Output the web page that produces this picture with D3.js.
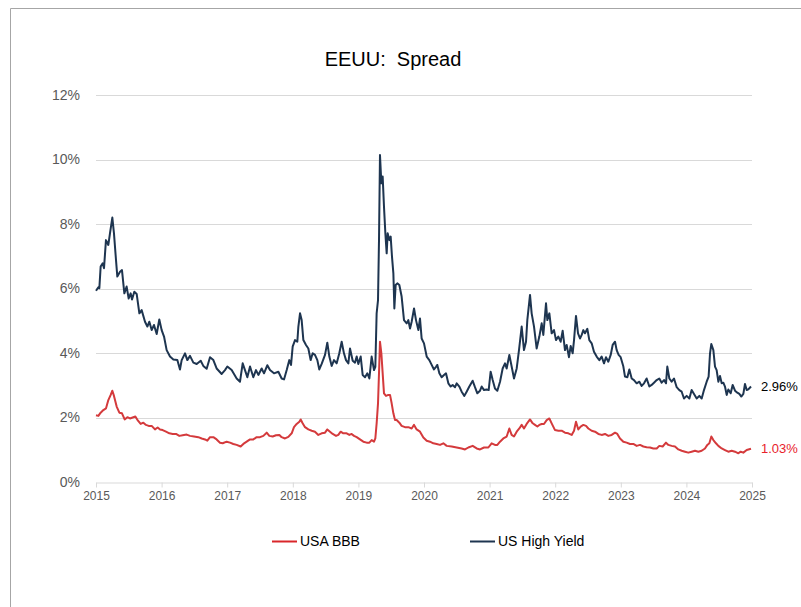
<!DOCTYPE html>
<html>
<head>
<meta charset="utf-8">
<script src="https://cdn.jsdelivr.net/npm/d3@7/dist/d3.min.js"></script>
<style>
  html, body { margin: 0; padding: 0; background: #fff; }
  svg { display: block; font-family: "Liberation Sans", Arial, sans-serif; }
</style>
</head>
<body>
<svg id="chart" width="801" height="607"></svg>
<script>
// ---- data (decimal years, spread in %) ----
const title = "EEUU:  Spread";
const seriesNames = ["USA BBB", "US High Yield"];
const yTicks = [0, 2, 4, 6, 8, 10, 12];
const xTicks = [2015, 2016, 2017, 2018, 2019, 2020, 2021, 2022, 2023, 2024, 2025];

const hyYears = [
2015.000,2015.036,2015.051,2015.071,2015.102,2015.122,2015.152,2015.188,2015.213,2015.249,2015.274,2015.305,2015.325,2015.366,2015.396,2015.432,2015.467,2015.498,2015.528,2015.549,2015.584,2015.620,2015.661,2015.696,2015.747,2015.783,2015.813,2015.849,2015.884,2015.925,2015.965,
2016.001,2016.037,2016.077,2016.128,2016.179,2016.240,2016.280,2016.306,2016.357,2016.392,2016.433,2016.484,2016.535,2016.596,2016.636,2016.687,2016.738,2016.789,2016.839,2016.916,2016.966,
2017.002,2017.068,2017.144,2017.195,2017.236,2017.271,2017.307,2017.348,2017.398,2017.439,2017.475,2017.525,2017.561,2017.612,2017.652,2017.713,2017.780,2017.830,2017.866,2017.907,2017.947,2017.973,
2017.998,2018.034,2018.069,2018.085,2018.110,2018.135,2018.161,2018.201,2018.237,2018.272,2018.303,2018.338,2018.374,2018.404,2018.440,2018.491,2018.526,2018.557,2018.593,2018.628,2018.669,2018.709,2018.745,2018.780,2018.811,2018.847,2018.872,2018.913,2018.948,2018.974,
2018.999,2019.035,2019.065,2019.101,2019.136,2019.167,2019.202,2019.238,2019.258,2019.278,2019.299,2019.314,2019.329,2019.350,2019.370,2019.390,2019.411,2019.431,2019.446,2019.472,2019.492,2019.512,2019.533,2019.548,2019.568,2019.593,2019.624,2019.659,2019.695,2019.736,2019.761,2019.787,2019.812,2019.848,2019.878,2019.914,2019.939,2019.964,
2020.000,2020.041,2020.081,2020.117,2020.152,2020.183,2020.203,2020.234,2020.269,2020.305,2020.335,2020.371,2020.407,2020.437,2020.473,2020.498,2020.539,2020.574,2020.615,2020.650,2020.691,2020.742,2020.777,2020.813,2020.854,2020.879,2020.915,2020.955,2020.986,
2021.016,2021.047,2021.082,2021.118,2021.159,2021.199,2021.235,2021.260,2021.301,2021.336,2021.372,2021.413,2021.448,2021.489,2021.524,2021.555,2021.575,2021.616,2021.641,2021.677,2021.717,2021.758,2021.794,2021.819,2021.860,2021.880,2021.911,2021.946,2021.982,
2022.012,2022.048,2022.083,2022.114,2022.149,2022.175,2022.210,2022.236,2022.266,2022.287,2022.317,2022.348,2022.378,2022.404,2022.429,2022.454,2022.490,2022.520,2022.556,2022.591,2022.632,2022.673,2022.708,2022.744,2022.774,2022.810,2022.846,2022.876,2022.912,2022.937,2022.967,2022.998,
2023.039,2023.064,2023.100,2023.130,2023.166,2023.201,2023.242,2023.283,2023.318,2023.354,2023.394,2023.435,2023.470,2023.506,2023.547,2023.587,2023.623,2023.659,2023.689,2023.709,2023.740,2023.775,2023.811,2023.852,2023.892,2023.928,2023.963,
2024.004,2024.045,2024.080,2024.116,2024.157,2024.197,2024.233,2024.268,2024.309,2024.339,2024.360,2024.380,2024.411,2024.436,2024.461,2024.487,2024.512,2024.538,2024.563,2024.588,2024.614,2024.639,2024.675,2024.705,2024.741,2024.776,2024.807,2024.837,2024.868,2024.893,2024.919,2024.944,2024.985
];
const hyValues = [
5.93,6.04,6.01,6.68,6.78,6.63,7.50,7.35,7.71,8.20,7.71,6.88,6.37,6.52,6.57,5.85,6.06,5.69,5.85,5.66,5.90,5.83,5.23,5.33,4.97,4.82,4.97,4.71,4.87,4.59,5.04,
4.71,4.51,4.09,3.89,3.80,3.78,3.49,3.78,3.99,3.78,3.91,3.70,3.66,3.76,3.60,3.51,3.87,3.78,3.52,3.35,3.47,
3.58,3.47,3.21,3.11,3.68,3.47,3.25,3.58,3.25,3.47,3.32,3.52,3.37,3.62,3.47,3.37,3.42,3.21,3.18,3.47,3.78,3.63,
4.20,4.40,4.35,4.82,5.23,5.02,4.40,4.25,4.14,3.78,3.99,3.94,3.78,3.49,3.66,3.94,4.32,3.89,3.60,3.78,3.68,3.99,4.35,3.99,3.78,3.68,4.14,3.76,3.70,3.89,
3.66,3.89,3.32,3.25,3.37,3.21,3.89,3.47,3.57,5.23,5.64,7.50,10.14,9.26,9.47,8.54,7.71,7.09,7.71,7.50,7.61,6.99,6.47,5.38,6.11,6.16,6.11,5.75,5.02,4.92,5.02,4.76,4.97,5.38,5.02,4.71,5.07,4.45,
4.30,3.89,3.78,3.63,3.49,3.57,3.63,3.37,3.25,3.32,3.37,3.06,2.96,3.01,2.94,3.06,2.96,2.80,2.67,2.80,2.96,3.14,2.94,2.75,2.83,2.96,2.85,2.87,2.85,
3.42,3.16,2.90,2.83,3.11,3.52,3.68,3.52,3.94,3.58,3.21,3.52,4.09,4.82,4.09,4.35,5.02,5.80,5.23,4.82,4.14,4.51,4.92,4.56,5.54,5.02,5.23,4.61,4.71,
4.40,4.51,4.35,4.69,4.09,4.25,3.87,4.22,3.99,4.40,5.15,4.61,4.45,4.56,4.71,4.61,4.75,4.40,4.30,4.04,3.89,3.78,3.89,3.68,3.87,3.73,3.94,4.25,4.35,4.09,3.94,3.87,
3.58,3.27,3.25,3.49,3.21,3.16,3.06,3.11,2.98,3.06,3.21,2.96,3.01,3.08,3.16,3.21,3.08,3.16,3.06,3.58,3.21,3.11,3.21,2.94,2.85,2.80,2.59,
2.67,2.59,2.85,2.73,2.59,2.67,2.59,2.85,3.11,3.27,3.99,4.28,4.09,3.58,3.47,3.11,3.29,3.06,3.08,2.96,2.70,2.87,2.75,3.01,2.83,2.77,2.73,2.65,2.73,3.04,2.85,2.87,2.96
];

const bbbYears = [
2015.000,2015.036,2015.071,2015.112,2015.152,2015.188,2015.224,2015.249,2015.274,2015.315,2015.356,2015.396,2015.437,2015.478,2015.518,2015.559,2015.600,2015.640,2015.681,2015.722,2015.762,2015.803,2015.849,2015.899,2015.940,2015.976,
2016.016,2016.067,2016.118,2016.169,2016.220,2016.270,2016.321,2016.382,2016.433,2016.494,2016.560,2016.611,2016.662,2016.697,2016.738,2016.789,2016.839,2016.890,2016.931,2016.992,
2017.043,2017.093,2017.144,2017.205,2017.246,2017.297,2017.348,2017.398,2017.449,2017.500,2017.551,2017.602,2017.642,2017.693,2017.744,2017.795,2017.830,2017.881,2017.932,2017.983,
2018.018,2018.059,2018.100,2018.120,2018.150,2018.186,2018.237,2018.288,2018.338,2018.389,2018.440,2018.491,2018.526,2018.567,2018.608,2018.659,2018.694,2018.730,2018.770,2018.821,2018.862,2018.897,2018.933,2018.974,
2019.024,2019.075,2019.126,2019.167,2019.202,2019.238,2019.258,2019.278,2019.299,2019.314,2019.329,2019.350,2019.370,2019.390,2019.421,2019.456,2019.482,2019.507,2019.533,2019.558,2019.583,2019.624,2019.659,2019.710,2019.761,2019.812,2019.848,2019.888,2019.939,2019.990,
2020.041,2020.091,2020.142,2020.193,2020.244,2020.295,2020.346,2020.422,2020.498,2020.574,2020.625,2020.676,2020.742,2020.803,2020.854,2020.915,2020.981,
2021.031,2021.082,2021.118,2021.159,2021.209,2021.260,2021.301,2021.336,2021.372,2021.413,2021.453,2021.489,2021.524,2021.565,2021.616,2021.657,2021.692,2021.728,2021.758,2021.794,2021.829,2021.870,2021.911,2021.946,2021.997,
2022.048,2022.098,2022.149,2022.200,2022.251,2022.287,2022.317,2022.352,2022.388,2022.429,2022.470,2022.505,2022.556,2022.607,2022.658,2022.708,2022.759,2022.810,2022.861,2022.912,2022.947,2022.988,
2023.039,2023.089,2023.140,2023.191,2023.242,2023.293,2023.344,2023.394,2023.445,2023.496,2023.547,2023.587,2023.638,2023.689,2023.725,2023.775,2023.826,2023.877,2023.928,2023.979,
2024.029,2024.080,2024.131,2024.182,2024.233,2024.283,2024.319,2024.350,2024.380,2024.411,2024.451,2024.487,2024.538,2024.588,2024.639,2024.690,2024.741,2024.792,2024.827,2024.868,2024.919,2024.985
];
const bbbValues = [
2.07,2.05,2.15,2.23,2.28,2.54,2.70,2.83,2.67,2.34,2.15,2.13,1.94,2.01,1.97,2.00,2.03,1.90,1.80,1.84,1.77,1.74,1.74,1.63,1.69,1.63,
1.61,1.56,1.51,1.49,1.49,1.43,1.45,1.47,1.43,1.41,1.39,1.35,1.32,1.28,1.39,1.39,1.32,1.22,1.20,1.25,
1.22,1.18,1.15,1.10,1.18,1.25,1.32,1.32,1.39,1.39,1.43,1.53,1.43,1.41,1.45,1.46,1.39,1.35,1.40,1.51,
1.70,1.80,1.87,1.94,1.82,1.70,1.63,1.59,1.56,1.46,1.51,1.53,1.63,1.56,1.49,1.43,1.46,1.56,1.51,1.51,1.46,1.49,1.43,1.39,
1.32,1.25,1.22,1.22,1.30,1.25,1.35,1.82,2.44,3.37,4.35,3.99,3.37,2.75,2.67,2.70,2.70,2.44,2.13,1.92,1.92,1.84,1.74,1.70,1.70,1.66,1.77,1.63,1.56,1.38,
1.28,1.25,1.20,1.18,1.15,1.20,1.12,1.10,1.07,1.04,1.01,1.07,1.12,1.04,1.01,1.07,1.07,
1.20,1.15,1.15,1.25,1.35,1.41,1.66,1.46,1.41,1.56,1.66,1.77,1.66,1.80,1.94,1.82,1.77,1.72,1.77,1.80,1.80,1.92,1.97,1.82,1.61,
1.59,1.59,1.53,1.51,1.46,1.59,1.87,1.63,1.72,1.77,1.74,1.66,1.59,1.56,1.49,1.46,1.49,1.43,1.46,1.53,1.49,1.35,
1.25,1.22,1.18,1.18,1.12,1.15,1.10,1.08,1.07,1.04,1.04,1.12,1.10,1.22,1.15,1.12,1.10,1.01,0.97,0.94,
0.91,0.94,0.97,0.94,0.97,1.04,1.15,1.20,1.41,1.30,1.20,1.12,1.04,0.99,0.94,0.97,0.94,0.89,0.94,0.91,0.99,1.03
];

// ---- chart ----
const W = 801, H = 607;
const margin = { left: 96, right: 49, top: 95, bottom: 125 };
const svg = d3.select("#chart");

// frame
svg.append("path")
  .attr("d", `M10.5,${H} L10.5,8.5 L${W},8.5`)
  .attr("fill", "none").attr("stroke", "#a6a6a6").attr("stroke-width", 1);

const x = d3.scaleLinear().domain([2015, 2025]).range([margin.left, W - margin.right]);
const y = d3.scaleLinear().domain([0, 12]).range([H - margin.bottom, margin.top]);

// gridlines
svg.append("g")
  .selectAll("line").data(yTicks.filter(d => d > 0)).join("line")
  .attr("x1", x(2015)).attr("x2", x(2025))
  .attr("y1", d => Math.round(y(d)) + 0.5).attr("y2", d => Math.round(y(d)) + 0.5)
  .attr("stroke", "#d9d9d9").attr("stroke-width", 1);

// y axis labels
const yAxis = svg.append("g")
  .attr("transform", `translate(${x(2015)},0)`)
  .call(d3.axisLeft(y).tickValues(yTicks).tickFormat(d => d + "%").tickSize(0).tickPadding(16));
yAxis.select(".domain").remove();
yAxis.selectAll("text").attr("fill", "#595959").attr("font-size", 14)
  .attr("font-family", "'Liberation Sans', Arial, sans-serif");

// x axis
const xAxis = svg.append("g")
  .attr("transform", `translate(0,${Math.round(y(0)) + 0.5})`)
  .call(d3.axisBottom(x).tickValues(xTicks).tickFormat(d3.format("d")).tickSize(5).tickSizeOuter(0).tickPadding(4));
xAxis.select(".domain").attr("stroke", "#d9d9d9");
xAxis.selectAll(".tick line").attr("stroke", "#d9d9d9");
xAxis.selectAll("text").attr("fill", "#595959").attr("font-size", 12)
  .attr("font-family", "'Liberation Sans', Arial, sans-serif");

// lines
const colors = { bbb: "#d43a3c", hy: "#1e3550" };
const line = d3.line().x(d => x(d[0])).y(d => y(d[1])).curve(d3.curveLinear);
const hyData = hyYears.map((t, i) => [t, hyValues[i]]);
const bbbData = bbbYears.map((t, i) => [t, bbbValues[i]]);

svg.append("path").datum(hyData)
  .attr("d", line).attr("fill", "none").attr("stroke", colors.hy)
  .attr("stroke-width", 2).attr("stroke-linejoin", "round");
svg.append("path").datum(bbbData)
  .attr("d", line).attr("fill", "none").attr("stroke", colors.bbb)
  .attr("stroke-width", 2).attr("stroke-linejoin", "round");

// end labels
const lastHY = hyValues[hyValues.length - 1];
const lastBBB = bbbValues[bbbValues.length - 1];
svg.append("text").attr("x", 761).attr("y", y(lastHY)).attr("dy", "0.35em")
  .attr("font-size", 13).attr("fill", "#000").text(lastHY.toFixed(2) + "%");
svg.append("text").attr("x", 761).attr("y", y(lastBBB)).attr("dy", "0.35em")
  .attr("font-size", 13).attr("fill", "#e8212b").text(lastBBB.toFixed(2) + "%");

// title
svg.append("text").attr("x", 393).attr("y", 59).attr("dy", "0.35em")
  .attr("text-anchor", "middle").attr("font-size", 20).attr("fill", "#000")
  .style("white-space", "pre").text(title);

// legend
const legend = [
  { name: seriesNames[0], color: "#d9262a", x: 272 },
  { name: seriesNames[1], color: colors.hy, x: 470 }
];
const lg = svg.append("g").selectAll("g").data(legend).join("g")
  .attr("transform", d => `translate(${d.x},541)`);
lg.append("line").attr("x1", 0).attr("x2", 25).attr("y1", 0.5).attr("y2", 0.5)
  .attr("stroke", d => d.color).attr("stroke-width", 2);
lg.append("text").attr("x", 28).attr("dy", "0.35em").attr("font-size", 14)
  .attr("fill", "#000").text(d => d.name);
</script>
</body>
</html>
